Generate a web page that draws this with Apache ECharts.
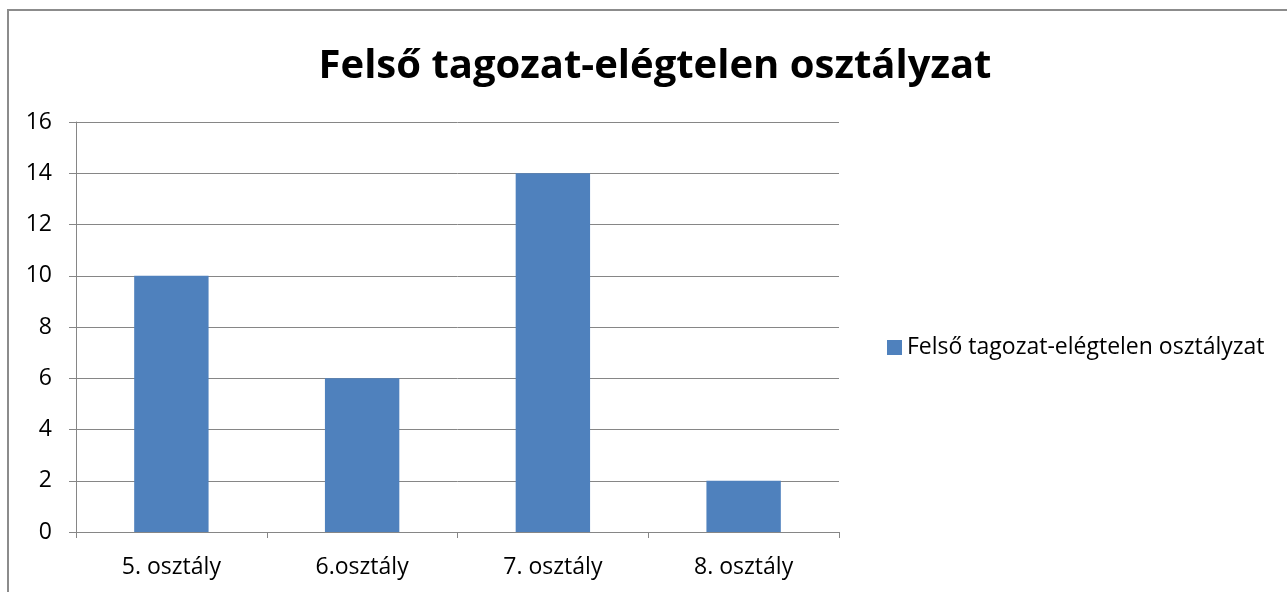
<!DOCTYPE html>
<html>
<head>
<meta charset="utf-8">
<script src="https://cdn.jsdelivr.net/npm/echarts@6/dist/echarts.min.js"></script>
<style>
  html, body { margin: 0; padding: 0; background: #fff; }
  #frame { position: absolute; left: 7px; top: 9px; width: 1290px; height: 600px; border-left: 2px solid #8c8c8c; border-top: 2px solid #8c8c8c; box-sizing: border-box; }
  #chart { width: 1287px; height: 592px; }
</style>
</head>
<body>
<div id="frame"></div>
<div id="chart"></div>
<script>
// data
var categories = ['5. osztály', '6.osztály', '7. osztály', '8. osztály']
var values = [10, 6, 14, 2]
var seriesName = 'Felső tagozat-elégtelen osztályzat'
var chartTitle = 'Felső tagozat-elégtelen osztályzat'

var font = 'Open Sans, Liberation Sans, sans-serif'
var grey = '#868686'

var myChart = echarts.init(document.getElementById('chart'))
myChart.setOption({
  animation: false,
  title: {
    text: chartTitle,
    left: 650,
    textAlign: 'center',
    top: 42,
    textStyle: { fontFamily: font, fontSize: 40, fontWeight: 'bold', color: '#000' }
  },
  legend: {
    data: [seriesName],
    left: 882,
    top: 331,
    orient: 'vertical',
    icon: 'rect',
    itemWidth: 15,
    itemHeight: 15,
    itemGap: 8,
    textStyle: { fontFamily: font, fontSize: 23, color: '#000' }
  },
  grid: {
    left: 76,
    right: 1287 - 839,
    top: 122,
    bottom: 592 - 532,
    containLabel: false
  },
  xAxis: {
    type: 'category',
    data: categories,
    axisLine: { lineStyle: { color: grey, width: 1 } },
    axisTick: { show: true, length: 6, lineStyle: { color: grey } },
    axisLabel: { fontFamily: font, fontSize: 23, color: '#000', margin: 24 }
  },
  yAxis: {
    type: 'value',
    min: 0,
    max: 16,
    interval: 2,
    axisLine: { show: true, lineStyle: { color: grey, width: 1 } },
    axisTick: { show: true, length: 7, lineStyle: { color: grey } },
    axisLabel: { fontFamily: font, fontSize: 23, color: '#000', margin: 24 },
    splitLine: { lineStyle: { color: grey, width: 1 } }
  },
  series: [
    {
      name: seriesName,
      type: 'bar',
      barWidth: '39%',
      data: values,
      itemStyle: { color: '#4F81BD' }
    }
  ]
})
</script>
</body>
</html>
